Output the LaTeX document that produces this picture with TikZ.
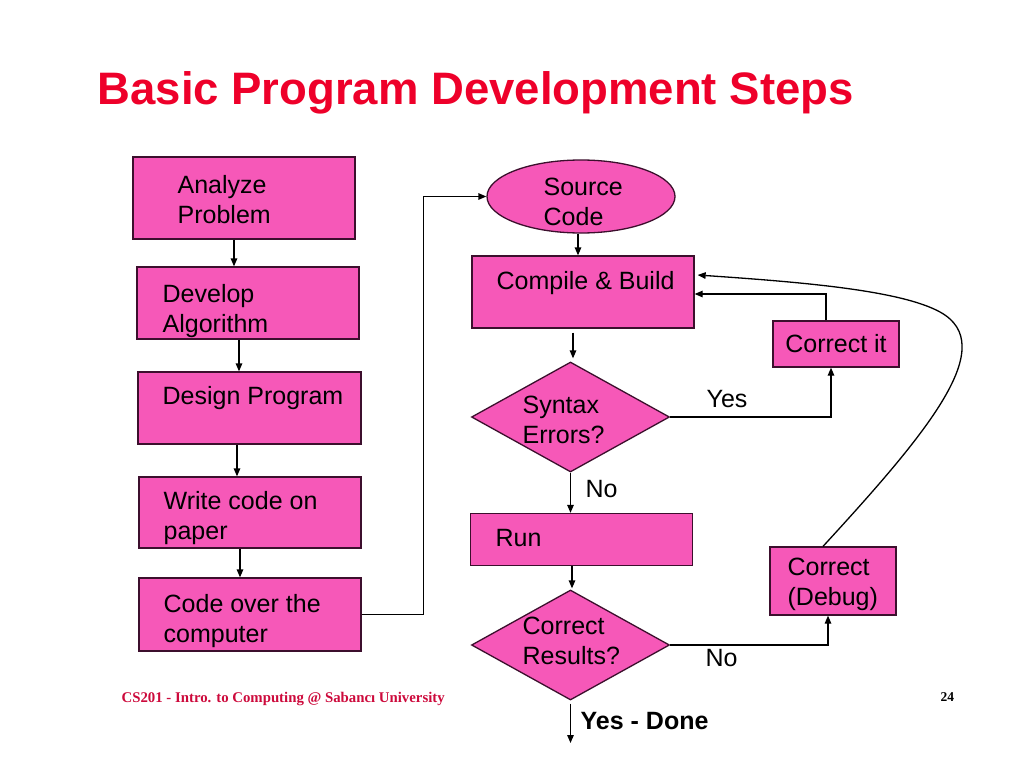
\documentclass[tikz,border=0pt]{standalone}
\usepackage{fontspec}
\setmainfont{Liberation Sans}
\newfontfamily\footfont{Liberation Serif}
\usetikzlibrary{arrows.meta,shapes.geometric}
\definecolor{titlered}{RGB}{238,0,42}
\definecolor{footred}{RGB}{205,10,60}
\definecolor{boxpink}{RGB}{246,88,184}
\definecolor{boxline}{RGB}{60,15,45}
\tikzset{every picture/.style={line width=1.3pt}}
\tikzset{
  box/.style={draw=boxline, fill=boxpink, rectangle, inner sep=0pt},
  oval/.style={draw=boxline, fill=boxpink, ellipse, inner sep=0pt},
  decide/.style={draw=boxline, fill=boxpink, diamond, inner sep=0pt, minimum width=198pt, minimum height=110pt},
  words/.style={anchor=north west, inner sep=0pt, align=left, font=\fontsize{25}{30}\selectfont},
  arr/.style={-{Triangle[length=8pt,width=6.5pt]}, line width=1.3pt}
}

\begin{document}
\begin{tikzpicture}[x=1pt,y=1pt,yscale=-1,xscale=1]
\useasboundingbox [fill=white] (0,0) rectangle (1024,768);

% Title
\node [anchor=north west, inner sep=0pt, text=titlered, font=\fontsize{45.5}{50}\selectfont\bfseries] (title) at (97,71) {Basic Program Development Steps};

% Left column: boxes
\node [box, minimum width=222pt, minimum height=82pt] (analyze) at (244,198) {};
\node [box, minimum width=222pt, minimum height=72pt] (develop) at (248,303) {};
\node [box, minimum width=223pt, minimum height=72pt] (design) at (249.5,408) {};
\node [box, minimum width=222pt, minimum height=71pt] (write) at (250,512.5) {};
\node [box, minimum width=222pt, minimum height=73pt] (code) at (250,614.5) {};
% Left column: texts
\node [words] (analyzeT) at (177,175) {Analyze\\Problem};
\node [words] (developT) at (162,284) {Develop\\Algorithm};
\node [words] (designT) at (162,386) {Design Program};
\node [words] (writeT) at (163,491) {Write code on\\paper};
\node [words] (codeT) at (163,594) {Code over the\\computer};

% Right column: shapes
\node [oval, minimum width=188pt, minimum height=73pt] (source) at (581,196.5) {};
\node [box, minimum width=222pt, minimum height=72pt] (compile) at (583,292) {};
\node [decide] (syntax) at (570.5,417) {};
\node [box, minimum width=222pt, minimum height=52pt] (run) at (581.5,539.5) {};
\node [decide] (results) at (570.5,645) {};
\node [box, minimum width=126pt, minimum height=46pt, font=\fontsize{25}{30}\selectfont] (fix) at (836,344) {Correct it};
\node [box, minimum width=126pt, minimum height=68pt, font=\fontsize{25}{30}\selectfont] (debug) at (833,581) {};
\coordinate (done) at (570.5,743);
% Right column: texts
\node [words] (sourceT) at (543,177) {Source\\Code};
\node [words] (compileT) at (496,271) {Compile \& Build};
\node [words] (syntaxT) at (522,395) {Syntax\\Errors?};
\node [words] (runT) at (495,529) {Run};
\node [words] (resultsT) at (522,616) {Correct\\Results?};
\node [words] (debugT) at (787,557) {Correct\\(Debug)};
\node [words] (yesT) at (706,390) {Yes};
\node [words] (noT) at (585,480) {No};
\node [words] (no2T) at (705,649) {No};
\node [anchor=north west, inner sep=0pt, font=\fontsize{25}{30}\selectfont\bfseries] (doneT) at (580,712) {Yes - Done};

% Connectors
\draw [arr] ([xshift=-10pt]analyze.south) -- ([xshift=-10pt]analyze.south |- develop.north);
\draw [arr] ([xshift=-9pt]develop.south) -- ([xshift=-9pt]develop.south |- design.north);
\draw [arr] ([xshift=-12.5pt]design.south) -- ([xshift=-12.5pt]design.south |- write.north);
\draw [arr] ([xshift=-10pt]write.south) -- ([xshift=-10pt]write.south |- code.north);
\draw [arr] (code.east) -- ++(62,0) |- (source.west);
\draw [arr] ([xshift=-3pt]source.south) -- ([xshift=-3pt]source.south |- compile.north);
\draw [arr, shorten <=4pt, shorten >=3pt] ([xshift=-10pt]compile.south) -- ([xshift=-10pt]compile.south |- syntax.north);
\draw [arr] (syntax.east) -| ([xshift=-5pt]fix.south);
\draw [arr] ([xshift=-10pt]fix.north) |- ([yshift=2pt]compile.east);
\draw [arr] (syntax.south) -- (syntax.south |- run.north);
\draw [arr, shorten >=1pt] ([xshift=-9.5pt]run.south) -- ([xshift=-9.5pt]run.south |- results.north);
\draw [arr] (results.east) -| ([xshift=-5pt]debug.south);
\draw [arr, shorten <=3pt] (results.south) -- (done);
\draw [arr] ([xshift=-10pt]debug.north) .. controls (930,430) and (1000,345) .. (940,312) .. controls (900,290) and (800,282) .. ([yshift=-17pt,xshift=3pt]compile.east);

% Footer
\node [anchor=base west, inner sep=0pt, text=footred, font=\footfont\bfseries\fontsize{14.8}{18}\selectfont] (foot) at (121,702) {CS201 - Intro. to Computing @ Sabancı University};
\node [anchor=base west, inner sep=0pt, font=\footfont\bfseries\fontsize{13.5}{16}\selectfont] (page) at (940,701) {24};

\end{tikzpicture}
\end{document}
